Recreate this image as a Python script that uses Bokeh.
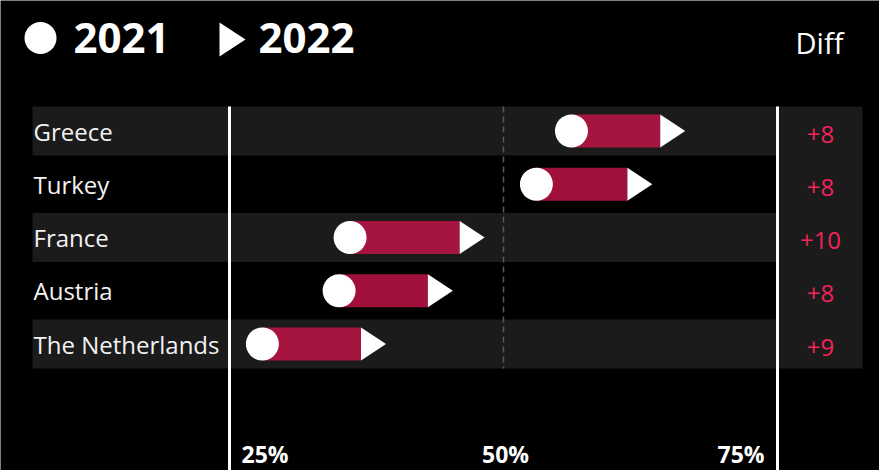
from bokeh.plotting import figure
from bokeh.models import Range1d, ColumnDataSource
from bokeh.core.properties import value
from bokeh.embed import file_html
from bokeh.resources import INLINE

# ---- data ----
countries = ["Greece", "Turkey", "France", "Austria", "The Netherlands"]
share_2021 = [56.2, 53.0, 36.0, 35.0, 28.0]
share_2022 = [64.3, 61.3, 46.0, 43.1, 37.0]
tick_values = [25, 50, 75]
tick_labels = ["25%", "50%", "75%"]
legend_labels = ["2021", "2022"]

# ---- layout helpers (page pixel -> data units) ----
PX_PER_PCT = 10.96
X25_PX = 229.0
ROW0_PX = 130.5
ROW_PX = 53.25
W, H = 879, 470


def xd(px):
    return 25 + (px - X25_PX) / PX_PER_PCT


def yd(py):
    return (py - ROW0_PX) / ROW_PX


rows = list(range(len(countries)))
diffs = ["+%d" % round(b - a) for a, b in zip(share_2021, share_2022)]

BAR_H = 33 / ROW_PX
BAND_H = 49 / ROW_PX
TRI_LEN = 25 / PX_PER_PCT
BAR_COLOR = "#c8144a"
BAND_COLOR = "#1b1b1b"
DIFF_COLOR = "#f0245a"
FONT = value("Open Sans")

p = figure(width=W, height=H, output_backend="svg", toolbar_location=None,
           x_range=Range1d(xd(0), xd(W)), y_range=Range1d(yd(H), yd(0)),
           min_border=0, x_axis_location=None, y_axis_location=None,
           background_fill_color="black", border_fill_color="black",
           outline_line_color=None)
p.xgrid.grid_line_color = None
p.ygrid.grid_line_color = None

# row bands
band_rows = rows[0::2]
p.hbar(y=band_rows, left=xd(32), right=tick_values[-1], height=BAND_H,
       fill_color=BAND_COLOR, line_color=None)
# diff column background
p.quad(left=tick_values[-1], right=xd(862), top=yd(106), bottom=yd(368),
       fill_color=BAND_COLOR, line_color=None)

# reference lines
p.segment(x0=[tick_values[0], tick_values[-1]], x1=[tick_values[0], tick_values[-1]],
          y0=yd(106), y1=yd(H), line_color="white", line_width=3)
p.segment(x0=[tick_values[1]], x1=[tick_values[1]], y0=yd(106), y1=yd(368),
          line_color="#5a5a5a", line_width=1.5, line_dash="6 4")

src = ColumnDataSource(dict(country=countries, y=rows, v21=share_2021, v22=share_2022,
                            diff=diffs))

# bars
p.hbar(y="y", left="v21", right="v22", height=BAR_H, source=src,
       fill_color=BAR_COLOR, fill_alpha=0.8, line_color=None)
# arrow heads
tri_xs = [[b, b, b + TRI_LEN] for b in share_2022]
tri_ys = [[r - BAR_H / 2, r + BAR_H / 2, r] for r in rows]
p.patches(xs=tri_xs, ys=tri_ys, fill_color="white", line_color=None)
# 2021 dots
p.scatter(x="v21", y="y", size=33, source=src, marker="circle",
          fill_color="white", line_color=None)

# country labels
p.text(x=xd(33), y="y", text="country", source=src, text_font=FONT,
       text_font_size="24px", text_color="#f2f2f2", text_baseline="middle",
       text_align="left")
# diff labels
p.text(x=xd(820), y="y", text="diff", source=src, text_font=FONT,
       text_font_size="24px", text_color=DIFF_COLOR, text_baseline="middle",
       text_align="center", y_offset=3)

# axis tick labels
tick_src = ColumnDataSource(dict(x=tick_values, text=tick_labels,
                                 align=["left", "center", "right"],
                                 xoff=[12, 2, -13]))
p.text(x="x", y=yd(453), text="text", source=tick_src, text_font=FONT,
       text_font_size="23px", text_font_style="bold", text_color="white",
       text_align="align", x_offset="xoff", text_baseline="middle")

# header legend
p.scatter(x=[xd(40)], y=[yd(37.5)], size=32, marker="circle",
          fill_color="white", line_color=None)
p.patches(xs=[[xd(219), xd(219), xd(245)]], ys=[[yd(22), yd(56), yd(39)]],
          fill_color="white", line_color=None)
p.text(x=[xd(73), xd(258)], y=[yd(37), yd(37)], text=legend_labels, text_font=FONT,
       text_font_size="42px", text_font_style="bold", text_color="white",
       text_baseline="middle", text_align="left")
p.text(x=[xd(819)], y=[yd(41.5)], text=["Diff"], text_font=FONT,
       text_font_size="29px", text_color="white", text_baseline="middle",
       text_align="center")

html = file_html(p, INLINE)
html = html.replace("<body>", '<body style="margin:0;background-color:#000000;">', 1)
open("out.html", "w").write(html)
